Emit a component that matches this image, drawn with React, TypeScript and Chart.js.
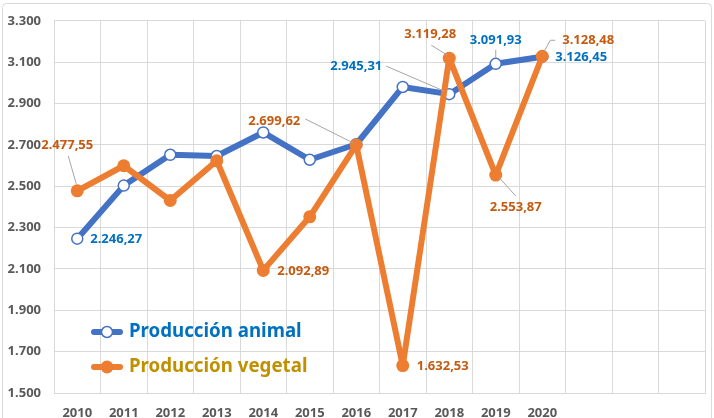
import React, { useEffect, useRef } from "react";
import { Chart, registerables } from "chart.js";

Chart.register(...registerables);

const years = ["2010", "2011", "2012", "2013", "2014", "2015", "2016", "2017", "2018", "2019", "2020", "", "", ""];
const animal = [2246.27, 2503, 2652, 2646, 2760, 2628, 2703, 2980, 2945.31, 3091.93, 3126.45];
const vegetal = [2477.55, 2599, 2431, 2623, 2092.89, 2352, 2699.62, 1632.53, 3119.28, 2553.87, 3128.48];
const seriesNames = ["Producción animal", "Producción vegetal"];
const yMin = 1500;
const yMax = 3300;
const yStep = 200;

const BLUE = "#4472C4";
const ORANGE = "#ED7D31";
const BLUE_TXT = "#0070C0";
const ORANGE_TXT = "#C55A11";
const GOLD_TXT = "#BF9000";
const GRID = "#D9D9D9";
const FONT = "'Noto Sans', sans-serif";

type Spec = { ds: number; i: number; dx: number; dy: number; align: CanvasTextAlign; leader?: number[][] };
const labelSpecs: Spec[] = [
  { ds: 0, i: 0, dx: 13, dy: 1, align: "left" },
  { ds: 0, i: 8, dx: -67, dy: -28, align: "right", leader: [[-63, -28], [-5, -3]] },
  { ds: 0, i: 9, dx: 0, dy: -24, align: "center", leader: [[0, -14], [0, -6]] },
  { ds: 0, i: 10, dx: 13, dy: 1, align: "left" },
  { ds: 1, i: 0, dx: -10, dy: -46, align: "center", leader: [[-9, -35], [-1, -7]] },
  { ds: 1, i: 4, dx: 14, dy: 1, align: "left" },
  { ds: 1, i: 6, dx: -56, dy: -24, align: "right", leader: [[-51, -26], [-3, -2]] },
  { ds: 1, i: 7, dx: 14, dy: 1, align: "left" },
  { ds: 1, i: 8, dx: -19, dy: -24, align: "center", leader: [[-18, -13], [-2, -3]] },
  { ds: 1, i: 9, dx: 20, dy: 32, align: "center", leader: [[3, 2], [20, 21]] },
  { ds: 1, i: 10, dx: 20, dy: -16, align: "left", leader: [[13, -16], [8, -16], [2, -5]] },
];

const fmtThousands = (s: string) => s.replace(/\B(?=(\d{3})+(?!\d))/g, ".");
const fmtTick = (v: number) => fmtThousands(String(Math.round(v)));
const fmtVal = (v: number) => {
  const [a, b] = v.toFixed(2).split(".");
  return fmtThousands(a) + "," + b;
};

const framePlugin = {
  id: "frame",
  beforeDraw(chart: any) {
    const ctx = chart.ctx;
    ctx.save();
    ctx.fillStyle = "#FFFFFF";
    ctx.fillRect(0, 0, chart.width, chart.height);
    ctx.strokeStyle = GRID;
    ctx.lineWidth = 1;
    ctx.beginPath();
    (ctx as any).roundRect ? (ctx as any).roundRect(2.5, 3.5, 709, 440, 4) : ctx.rect(2.5, 3.5, 709, 440);
    ctx.stroke();
    ctx.restore();
  },
};

const labelPlugin = {
  id: "vlabels",
  afterDatasetsDraw(chart: any) {
    const ctx = chart.ctx;
    ctx.save();
    ctx.font = `bold 13px ${FONT}`;
    ctx.textBaseline = "middle";
    for (const s of labelSpecs) {
      const meta = chart.getDatasetMeta(s.ds);
      const el = meta.data[s.i];
      if (!el) continue;
      const val = chart.data.datasets[s.ds].data[s.i] as number;
      const px = el.x;
      const py = el.y;
      if (s.leader) {
        ctx.strokeStyle = "#A6A6A6";
        ctx.lineWidth = 1;
        ctx.beginPath();
        s.leader.forEach((p, k) => {
          if (k === 0) ctx.moveTo(px + p[0], py + p[1]);
          else ctx.lineTo(px + p[0], py + p[1]);
        });
        ctx.stroke();
      }
      ctx.fillStyle = s.ds === 0 ? BLUE_TXT : ORANGE_TXT;
      ctx.textAlign = s.align;
      ctx.fillText(fmtVal(val), px + s.dx, py + s.dy);
    }
    ctx.restore();
  },
};

const legendPlugin = {
  id: "customLegend",
  afterDraw(chart: any) {
    const ctx = chart.ctx;
    ctx.save();
    const rows = [
      { y: 332, color: BLUE, txt: BLUE_TXT, hollow: true, name: seriesNames[0] },
      { y: 367, color: ORANGE, txt: GOLD_TXT, hollow: false, name: seriesNames[1] },
    ];
    for (const r of rows) {
      ctx.strokeStyle = r.color;
      ctx.lineWidth = 6;
      ctx.lineCap = "round";
      ctx.beginPath();
      ctx.moveTo(94, r.y);
      ctx.lineTo(120, r.y);
      ctx.stroke();
      ctx.beginPath();
      ctx.arc(107, r.y, r.hollow ? 5.5 : 6.5, 0, Math.PI * 2);
      ctx.fillStyle = r.hollow ? "#FFFFFF" : r.color;
      ctx.fill();
      if (r.hollow) {
        ctx.lineWidth = 1.5;
        ctx.stroke();
      }
      ctx.fillStyle = r.txt;
      ctx.font = `bold 18.7px ${FONT}`;
      ctx.textAlign = "left";
      ctx.textBaseline = "middle";
      ctx.fillText(r.name, 129, r.y);
    }
    ctx.restore();
  },
};

export default function App() {
  const ref = useRef<HTMLCanvasElement>(null);
  useEffect(() => {
    if (!ref.current) return;
    const chart = new Chart(ref.current, {
      type: "line",
      data: {
        labels: years,
        datasets: [
          {
            label: seriesNames[0],
            data: animal,
            borderColor: BLUE,
            borderWidth: 6,
            borderJoinStyle: "round",
            borderCapStyle: "round",
            pointRadius: 5.5,
            pointBackgroundColor: "#FFFFFF",
            pointBorderColor: BLUE,
            pointBorderWidth: 1.5,
            tension: 0,
            order: 2,
          },
          {
            label: seriesNames[1],
            data: vegetal,
            borderColor: ORANGE,
            borderWidth: 6,
            borderJoinStyle: "round",
            borderCapStyle: "round",
            pointRadius: 6.5,
            pointBackgroundColor: ORANGE,
            pointBorderColor: ORANGE,
            pointBorderWidth: 0,
            tension: 0,
            order: 1,
          },
        ],
      },
      options: {
        animation: false,
        responsive: false,
        devicePixelRatio: 1,
        events: [],
        layout: { padding: { top: 18, right: 9, left: 0, bottom: 0 } },
        plugins: { legend: { display: false }, tooltip: { enabled: false } },
        scales: {
          x: {
            offset: true,
            grid: { color: GRID, offset: true, drawTicks: false },
            border: { color: GRID },
            ticks: { color: "#595959", font: { family: FONT, weight: "bold", size: 13 }, padding: 12, autoSkip: false, maxRotation: 0 },
            afterFit: (s: any) => { s.height = 25; },
          },
          y: {
            min: yMin,
            max: yMax,
            grid: { color: GRID, drawTicks: false },
            border: { color: GRID },
            ticks: {
              stepSize: yStep,
              color: "#595959",
              font: { family: FONT, weight: "bold", size: 13 },
              padding: 13,
              callback: (v: any) => fmtTick(Number(v)),
            },
            afterFit: (s: any) => { s.width = 54; },
          },
        },
      } as any,
      plugins: [framePlugin, labelPlugin, legendPlugin],
    });
    return () => chart.destroy();
  }, []);
  return (
    <div style={{ position: "absolute", left: 0, top: 0, width: 714, height: 418 }}>
      <canvas ref={ref} width={714} height={418} style={{ width: 714, height: 418 }} />
    </div>
  );
}
